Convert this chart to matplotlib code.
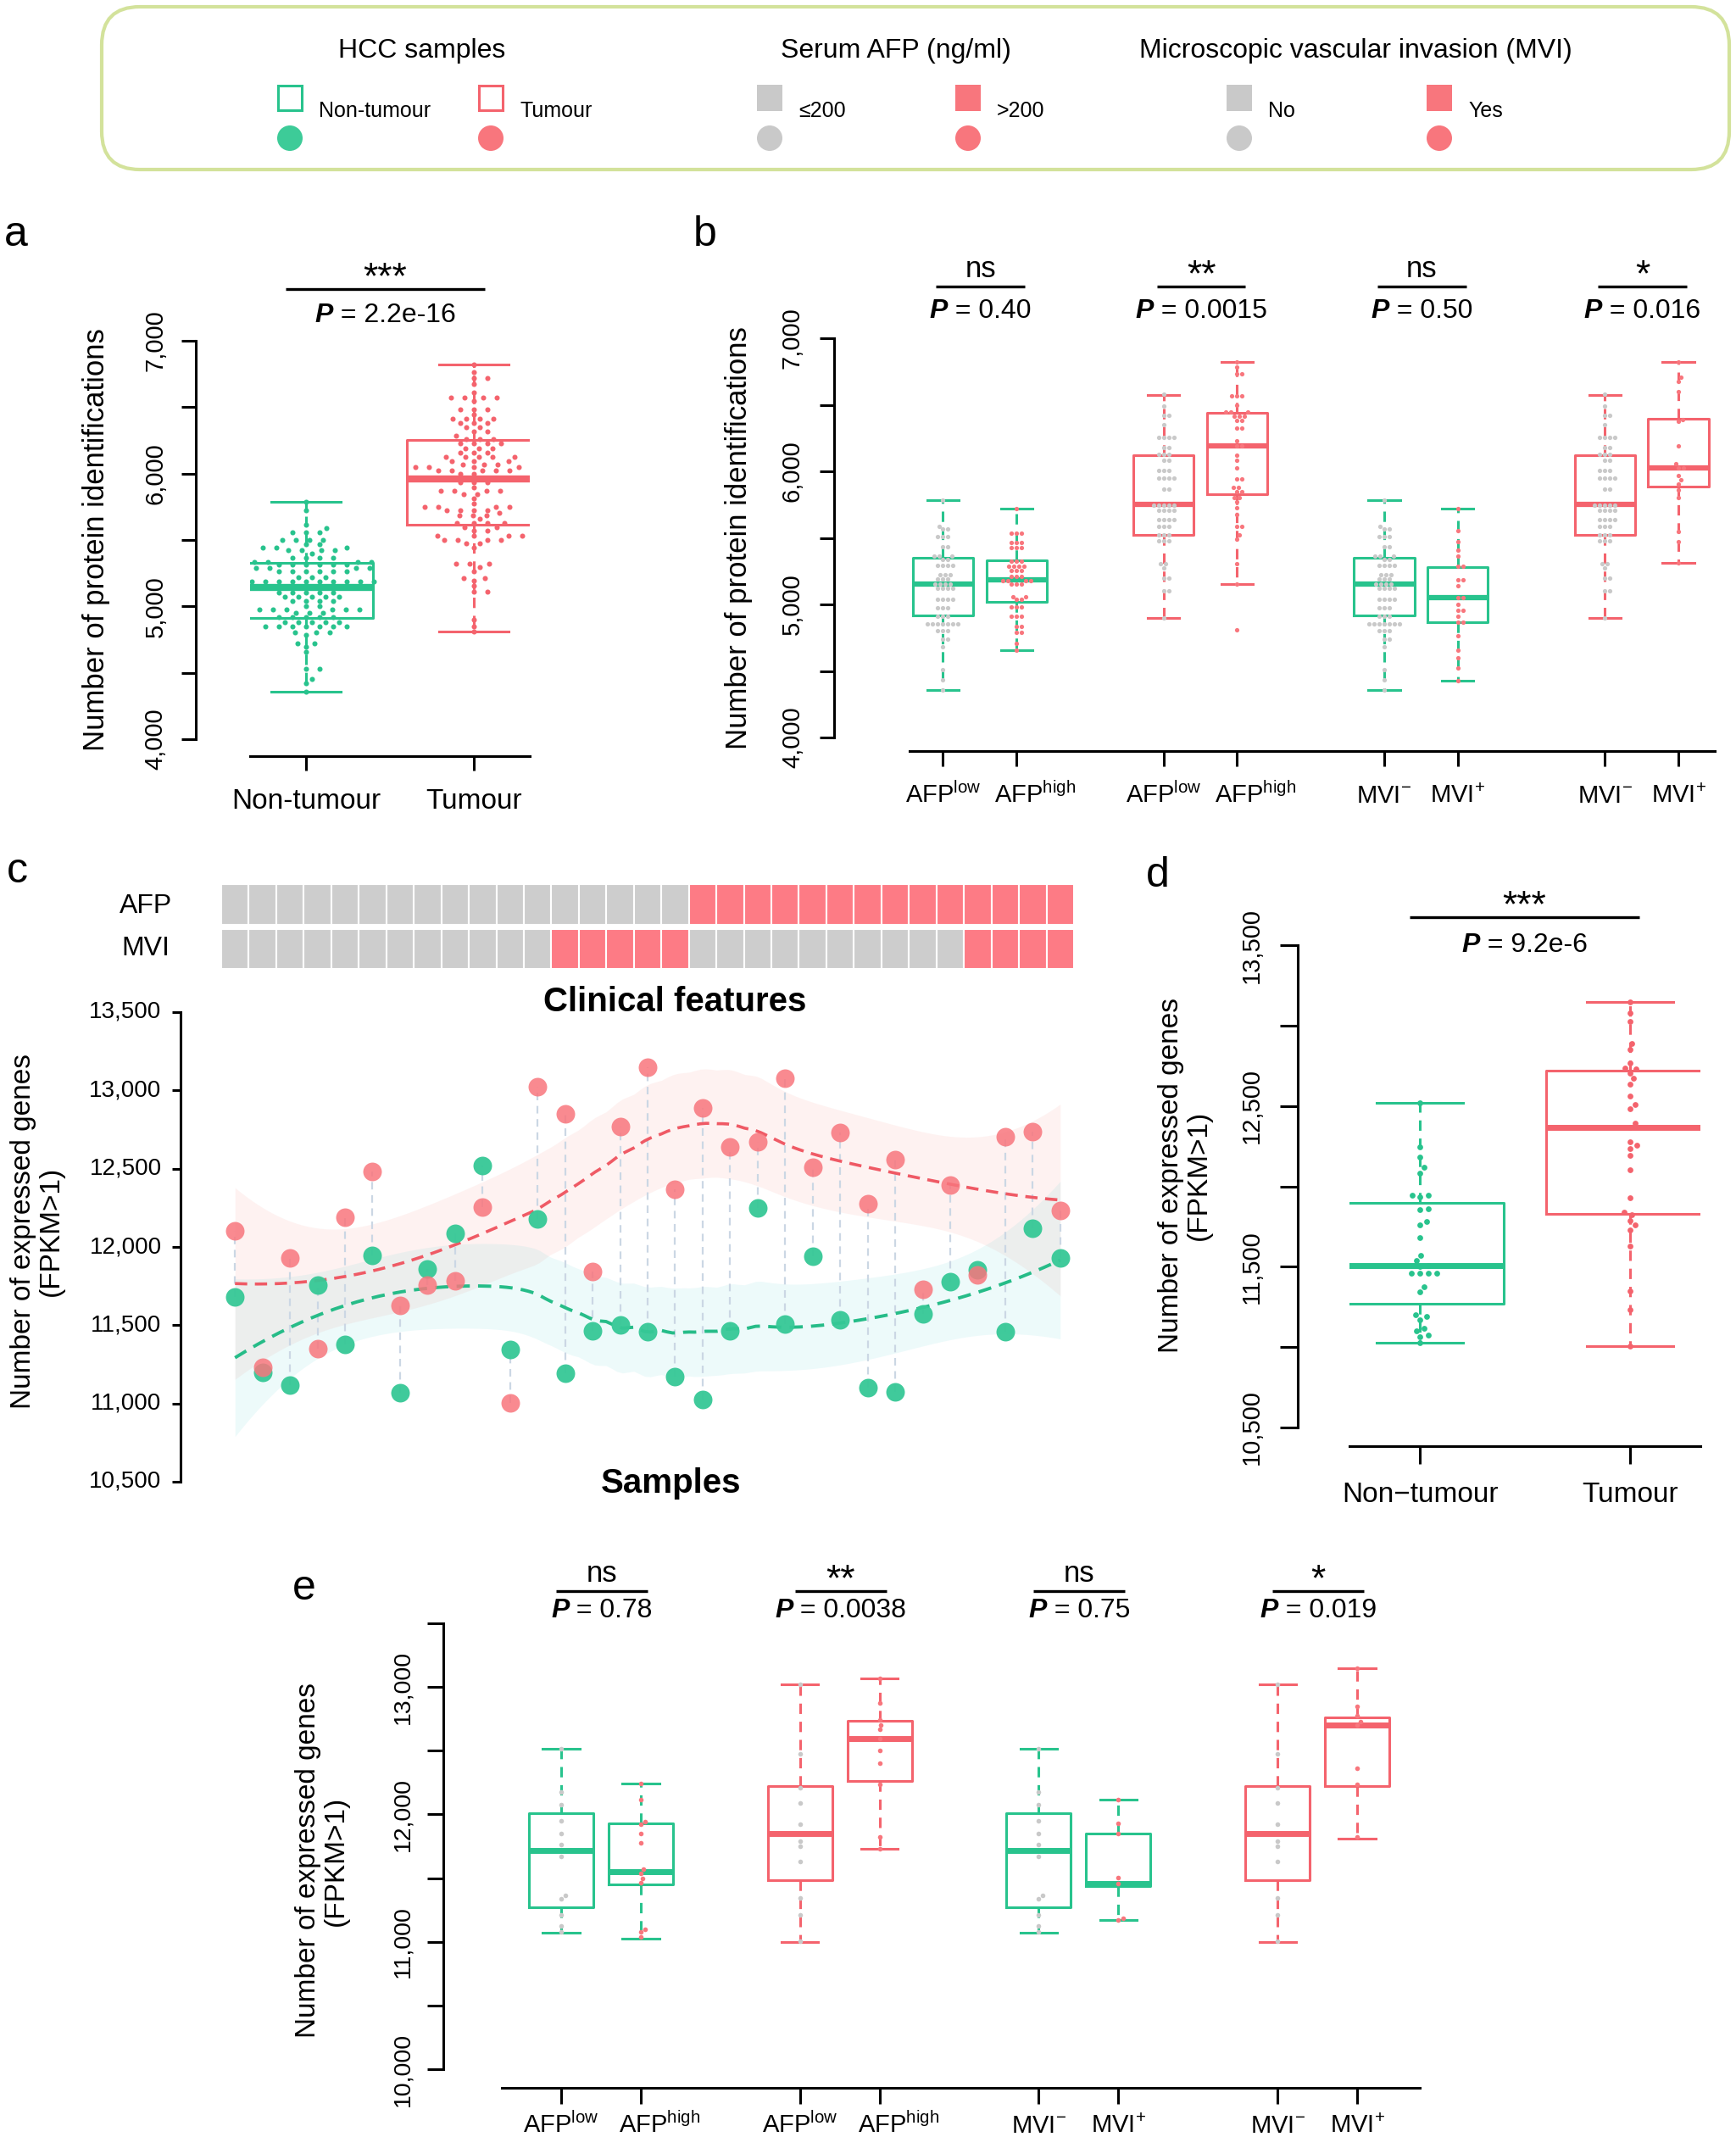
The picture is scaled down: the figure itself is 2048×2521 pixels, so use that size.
import numpy as np
import matplotlib
matplotlib.use("Agg")
import matplotlib.pyplot as plt
from matplotlib.patches import FancyBboxPatch, Rectangle, Circle
from matplotlib.offsetbox import TextArea, HPacker, AnnotationBbox
from matplotlib import cbook

plt.rcParams['font.family'] = ['Liberation Sans', 'DejaVu Sans']
plt.rcParams['mathtext.fontset'] = 'custom'
plt.rcParams['mathtext.rm'] = 'Liberation Sans'
plt.rcParams['mathtext.it'] = 'Liberation Sans:italic'
plt.rcParams['mathtext.bf'] = 'Liberation Sans:bold'

# -----------------------------
# Data
# -----------------------------

# panel a: protein identifications per sample
a_nontumour = [5788, 5724, 5613, 5588, 5558, 5558, 5558, 5503, 5503, 5503, 5503, 5469, 5469,
               5443, 5443, 5443, 5426, 5426, 5426, 5426, 5401, 5369, 5369, 5369, 5369, 5337,
               5337, 5337, 5337, 5316, 5316, 5316, 5316, 5316, 5316, 5288, 5288, 5288, 5288,
               5263, 5263, 5263, 5263, 5263, 5263, 5220, 5220, 5220, 5188, 5188, 5188, 5188,
               5188, 5188, 5188, 5188, 5188, 5188, 5146, 5146, 5146, 5146, 5146, 5103, 5103,
               5103, 5103, 5103, 5071, 5071, 5071, 5071, 5071, 5039, 5039, 5039, 5039, 5001,
               5001, 4976, 4976, 4976, 4976, 4976, 4976, 4950, 4950, 4950, 4916, 4916, 4916,
               4916, 4916, 4880, 4880, 4880, 4880, 4880, 4848, 4848, 4848, 4848, 4848, 4848,
               4848, 4806, 4806, 4806, 4784, 4721, 4721, 4693, 4657, 4529, 4529, 4455, 4423, 4356]
a_tumour = [6819, 6765, 6718, 6718, 6676, 6612, 6570, 6570, 6570, 6570, 6545, 6485, 6485, 6485,
            6443, 6411, 6411, 6411, 6411, 6379, 6379, 6379, 6347, 6347, 6315, 6315, 6283, 6258,
            6258, 6258, 6226, 6226, 6226, 6226, 6188, 6188, 6188, 6156, 6156, 6156, 6124, 6124,
            6124, 6124, 6124, 6092, 6092, 6092, 6071, 6071, 6071, 6050, 6050, 6050, 6050, 6024,
            6024, 6024, 6024, 6024, 5997, 5997, 5965, 5965, 5965, 5965, 5933, 5933, 5933, 5897,
            5869, 5869, 5869, 5869, 5844, 5844, 5810, 5774, 5752, 5752, 5752, 5752, 5725, 5725,
            5725, 5725, 5703, 5688, 5688, 5688, 5657, 5625, 5625, 5625, 5625, 5597, 5597, 5571,
            5571, 5533, 5533, 5533, 5533, 5503, 5503, 5503, 5503, 5475, 5475, 5443, 5320, 5320,
            5320, 5295, 5263, 5214, 5214, 5192, 5156, 5110, 5110, 4897, 4848, 4808]
a_labels = ["Non-tumour", "Tumour"]
a_med = [5140, 5960]
a_q1 = [4911, 5613]
a_q3 = [5327, 6255]
a_lo = [4356, 4808]
a_hi = [5788, 6819]
a_star = "***"
a_pval = "2.2e-16"

# panel b: protein identifications split by AFP / MVI
b_afp_low_nt = [5784, 5586, 5564, 5564, 5511, 5511, 5511, 5436, 5436, 5360, 5360, 5360, 5339,
                5339, 5296, 5296, 5296, 5296, 5220, 5220, 5220, 5188, 5188, 5188, 5155, 5155,
                5155, 5155, 5123, 5123, 5123, 5123, 5037, 5037, 5037, 5037, 4972, 4972, 4972,
                4908, 4908, 4908, 4854, 4854, 4854, 4854, 4854, 4854, 4854, 4800, 4800, 4800,
                4736, 4736, 4682, 4510, 4435, 4355]
b_afp_high_nt = [5720, 5532, 5532, 5532, 5468, 5468, 5468, 5424, 5424, 5424, 5327, 5327, 5327,
                 5284, 5284, 5284, 5284, 5252, 5252, 5252, 5209, 5209, 5209, 5177, 5177, 5177,
                 5177, 5155, 5155, 5155, 5059, 5059, 5037, 5037, 4984, 4984, 4984, 4908, 4908,
                 4908, 4833, 4833, 4790, 4790, 4704, 4657]
b_afp_low_t = [6582, 6490, 6421, 6421, 6350, 6253, 6253, 6253, 6253, 6178, 6178, 6129, 6129,
               6129, 6081, 6081, 6006, 6006, 6006, 5952, 5952, 5952, 5952, 5866, 5866, 5748,
               5748, 5748, 5748, 5748, 5705, 5705, 5705, 5705, 5640, 5640, 5640, 5640, 5586,
               5586, 5586, 5521, 5521, 5521, 5479, 5479, 5479, 5306, 5306, 5274, 5199, 5199,
               5102, 5102, 4898]
b_afp_high_t = [6822, 6781, 6731, 6731, 6565, 6565, 6565, 6494, 6443, 6443, 6443, 6415, 6415,
                6415, 6383, 6383, 6322, 6322, 6232, 6189, 6189, 6124, 6081, 6023, 5941, 5941,
                5877, 5877, 5844, 5844, 5801, 5801, 5769, 5726, 5672, 5586, 5586, 5521, 5489,
                5306, 5154, 4807]
b_mvi_neg_nt = b_afp_low_nt
b_mvi_pos_nt = [5720, 5551, 5470, 5410, 5364, 5289, 5289, 5184, 5184, 5139, 5048, 5048, 5003,
                4958, 4958, 4913, 4867, 4867, 4762, 4657, 4596, 4521, 4425]
b_mvi_neg_t = b_afp_low_t
b_mvi_pos_t = [6822, 6705, 6675, 6599, 6389, 6373, 6193, 6057, 6027, 6027, 5967, 5937, 5907,
               5861, 5801, 5545, 5470, 5310]
b_labels = [r'AFP$^{\rm low}$', r'AFP$^{\rm high}$', r'AFP$^{\rm low}$', r'AFP$^{\rm high}$',
            r'MVI$^{-}$', r'MVI$^{+}$', r'MVI$^{-}$', r'MVI$^{+}$']
b_med = [5154, 5184, 5750, 6193, 5154, 5048, 5750, 6027]
b_q1 = [4916, 5021, 5521, 5825, 4916, 4867, 5521, 5883]
b_q3 = [5349, 5334, 6123, 6440, 5349, 5283, 6123, 6398]
b_lo = [4355, 4657, 4898, 5154, 4355, 4425, 4898, 5310]
b_hi = [5786, 5720, 6575, 6822, 5786, 5720, 6575, 6822]
b_stars = ["ns", "**", "ns", "*"]
b_pvals = ["0.40", "0.0015", "0.50", "0.016"]

# panel c: expressed genes per paired sample (ordered as in the clinical strip)
c_tumour = [12103, 11232, 11929, 11348, 12192, 12482, 11628, 11758, 11785, 12255, 11006, 13024,
            12850, 11841, 12767, 13149, 12366, 12886, 12637, 12670, 13077, 12510, 12731, 12275,
            12560, 11730, 12394, 11821, 12704, 12734, 12233]
c_nontumour = [11680, 11200, 11116, 11758, 11376, 11946, 11066, 11860, 12084, 12518, 11343,
               12181, 11191, 11462, 11503, 11459, 11169, 11025, 11462, 12247, 11509, 11943,
               11537, 11100, 11075, 11570, 11780, 11855, 11459, 12117, 11932]
c_afp_high = [0, 0, 0, 0, 0, 0, 0, 0, 0, 0, 0, 0, 0, 0, 0, 0, 0,
              1, 1, 1, 1, 1, 1, 1, 1, 1, 1, 1, 1, 1, 1]
c_mvi_pos = [0, 0, 0, 0, 0, 0, 0, 0, 0, 0, 0, 0, 1, 1, 1, 1, 1,
             0, 0, 0, 0, 0, 0, 0, 0, 0, 0, 1, 1, 1, 1]

# panel d uses the panel c samples
d_labels = ["Non\u2212tumour", "Tumour"]
d_star = "***"
d_pval = "9.2e-6"

# panel e: expressed genes split by AFP / MVI
e_afp_low_nt = [12514, 12178, 12074, 11947, 11852, 11762, 11673, 11361, 11340, 11213, 11124, 11079]
e_afp_high_nt = [12244, 12119, 11941, 11926, 11852, 11777, 11569, 11540, 11495, 11465, 11100,
                 11079, 11035]
e_afp_low_t = [13019, 12475, 12208, 12089, 11920, 11792, 11748, 11629, 11347, 11213, 11005]
e_afp_high_t = [13069, 12876, 12742, 12700, 12668, 12594, 12505, 12401, 12238, 11822, 11733]
e_mvi_neg_nt = e_afp_low_nt
e_mvi_pos_nt = [12113, 11932, 11852, 11504, 11460, 11183, 11168]
e_mvi_neg_t = e_afp_low_t
e_mvi_pos_t = [13149, 12846, 12772, 12728, 12704, 12365, 12238, 11822]
e_med = [11718, 11552, 11852, 12594, 11718, 11460, 11852, 12704]
e_q1 = [11272, 11451, 11486, 12261, 11272, 11436, 11486, 12223]
e_q3 = [12009, 11932, 12223, 12737, 12009, 11852, 12223, 12763]
e_lo = [11070, 11026, 11000, 11733, 11070, 11168, 11000, 11813]
e_hi = [12514, 12244, 13019, 13069, 12514, 12113, 13019, 13149]
e_stars = ["ns", "**", "ns", "*"]
e_pvals = ["0.78", "0.0038", "0.75", "0.019"]

# -----------------------------
# Styling
# -----------------------------
W, H = 2048, 2521
GREEN = "#28C38D"
RED = "#F4636D"
GRAY = "#C9C9C9"
HEAT_RED = "#FD7B85"
HEAT_GRAY = "#CDCDCD"
PT_RED = "#F8767D"
PT_GREEN = "#36C896"
LW = 2.2

fig = plt.figure(figsize=(W / 100, H / 100), dpi=100)
fig.patch.set_facecolor("white")

# overlay axes in pixel units (origin top-left) for legend / annotations
ov = fig.add_axes([0, 0, 1, 1])
ov.set_xlim(0, W)
ov.set_ylim(H, 0)
ov.axis("off")


def add_px_axes(x0, y0, x1, y1):
    ax = fig.add_axes([x0 / W, 1 - y1 / H, (x1 - x0) / W, (y1 - y0) / H])
    ax.set_facecolor("none")
    return ax


def txt(x, y, s, size, ha="center", va="center", **kw):
    ov.text(x, y, s, fontsize=size, ha=ha, va=va, **kw)


def ptext(x, y, val, size=23):
    a = TextArea("P", textprops=dict(fontsize=size, fontweight="bold", fontstyle="italic"))
    b = TextArea(" = " + val, textprops=dict(fontsize=size))
    box = HPacker(children=[a, b], align="baseline", pad=0, sep=0)
    ab = AnnotationBbox(box, (x, y), xycoords="data", frameon=False,
                        box_alignment=(0.5, 0.5), pad=0)
    ov.add_artist(ab)


def bracket(x0, x1, y_line, y_p, star, pval):
    ov.plot([x0, x1], [y_line, y_line], color="black", lw=2.4, solid_capstyle="butt")
    xc = (x0 + x1) / 2
    if star == "ns":
        txt(xc, y_line - 11, star, 25, va="baseline")
    else:
        txt(xc, y_line - 1, star, 32, va="baseline")
    ptext(xc, y_p, pval)


def xpx(ax, pos):
    return ax.transData.transform((pos, ax.get_ylim()[0]))[0]


def swarm(ax, xc, vals, spx, spy):
    # simple beeswarm in pixel space (elliptical spacing)
    vals = np.asarray(vals, float)
    ypx = ax.transData.transform(np.column_stack([np.full(len(vals), xc), vals]))[:, 1]
    unit = xpx(ax, xc + 1) - xpx(ax, xc)
    order = np.argsort(ypx, kind="stable")
    placed = []
    offs = np.zeros(len(vals))
    for i in order:
        y = ypx[i]
        near = [(px, py) for px, py in placed if abs(py - y) < spy]
        cands = [0.0]
        for px, py in near:
            dx = spx * np.sqrt(1 - ((py - y) / spy) ** 2)
            cands += [px + dx, px - dx]
        cands.sort(key=abs)
        for c in cands:
            if all(((c - px) / spx) ** 2 + ((y - py) / spy) ** 2 >= 1 - 1e-6 for px, py in near):
                break
        placed.append((c, y))
        offs[i] = c
    return xc + offs / unit


def draw_boxes(ax, positions, stats, colors, width, cap, medlw):
    for p, st, c in zip(positions, stats, colors):
        ax.bxp([st], positions=[p], widths=width, capwidths=cap, showfliers=False,
               manage_ticks=False,
               boxprops=dict(color=c, linewidth=LW),
               medianprops=dict(color=c, linewidth=medlw, solid_capstyle="butt"),
               whiskerprops=dict(color=c, linewidth=LW, linestyle=(0, (4, 3))),
               capprops=dict(color=c, linewidth=LW))


def make_stats(med, q1, q3, lo, hi):
    return [dict(med=m, q1=a, q3=b, whislo=l, whishi=h, fliers=[])
            for m, a, b, l, h in zip(med, q1, q3, lo, hi)]


def style_axes(ax, out_left, out_bottom, ybounds, yticks, ylabels, ysize, ypad, ylen,
               yrot=90, xticks=None, xlabels=None, xsize=23, xpad=10, xlen=18):
    for s in ("top", "right"):
        ax.spines[s].set_visible(False)
    ax.spines["left"].set_position(("outward", out_left * 0.72))
    ax.spines["left"].set_bounds(*ybounds)
    ax.spines["left"].set_linewidth(LW)
    ax.set_yticks(yticks)
    ax.set_yticklabels(ylabels, fontsize=ysize, rotation=yrot, va="center")
    ax.tick_params(axis="y", length=ylen * 0.72, width=LW, pad=ypad)
    if xticks is None:
        ax.spines["bottom"].set_visible(False)
        ax.set_xticks([])
    else:
        ax.spines["bottom"].set_position(("outward", out_bottom * 0.72))
        ax.spines["bottom"].set_linewidth(LW)
        ax.set_xticks(xticks)
        ax.set_xticklabels(xlabels, fontsize=xsize)
        ax.tick_params(axis="x", length=xlen * 0.72, width=LW, pad=xpad)


def group_labels(ax, positions, labels, baseline, shifts, size=21):
    # labels drawn by hand so the "high" ones can sit slightly right of the tick
    for p, lab, sh in zip(positions, labels, shifts):
        txt(xpx(ax, p) + sh, baseline, lab, size, va="baseline")


def ylab_thousands(ticks, step):
    return [f"{int(t):,}" if t % step == 0 else "" for t in ticks]


# -----------------------------
# Legend box
# -----------------------------
ov.add_patch(FancyBboxPatch((120, 8), 1920, 192, boxstyle="round,pad=0,rounding_size=45",
                            fc="none", ec="#D3E29B", lw=3))
txt(498, 60, "HCC samples", 23)
txt(1057, 60, "Serum AFP (ng/ml)", 23)
txt(1599, 60, "Microscopic vascular invasion (MVI)", 23)

legend_items = [(342, "Non-tumour", GREEN, False), (579, "Tumour", RED, False),
                (908, "\u2264200", GRAY, True), (1142, ">200", PT_RED, True),
                (1462, "No", GRAY, True), (1698, "Yes", PT_RED, True)]
for cx, lab, col, filled in legend_items:
    if filled:
        ov.add_patch(Rectangle((cx - 15, 100), 30, 31, fc=col, ec=col, lw=0))
    else:
        ov.add_patch(Rectangle((cx - 14, 101), 28, 29, fc="white", ec=col, lw=2.2))
    circ_col = {GREEN: "#3DCB98", RED: PT_RED}.get(col, col)
    ov.add_patch(Circle((cx, 163), 15, fc=circ_col, ec="none"))
    txt(cx + 34, 131, lab, 18, ha="left")

# -----------------------------
# Panel a
# -----------------------------
ax_a = add_px_axes(295, 402, 625, 872)
ax_a.set_xlim(0.667, 2.333)
ax_a.set_ylim(4000, 7000)
draw_boxes(ax_a, [1, 2], make_stats(a_med, a_q1, a_q3, a_lo, a_hi), [GREEN, RED], 0.8, 0.41, 6)
for pos, vals, col in [(1, a_nontumour, GREEN), (2, a_tumour, RED)]:
    ax_a.scatter(swarm(ax_a, pos, vals, 16, 5.5), vals, s=19, color=col, lw=0, zorder=3)
yt = np.arange(4000, 7001, 500)
style_axes(ax_a, 64, 20, (4000, 7000), yt, ylab_thousands(yt, 1000), 21, 12, 17,
           xticks=[1, 2], xlabels=a_labels, xsize=24, xpad=15, xlen=17)
txt(114, 637, "Number of protein identifications", 25, rotation=90)
txt(5, 290, "a", 36, ha="left", va="baseline")
bracket(xpx(ax_a, 1) - 24, xpx(ax_a, 2) + 13, 341, 372, a_star, a_pval)

# -----------------------------
# Panel b
# -----------------------------
ax_b = add_px_axes(1073, 399, 2023, 870)
ax_b.set_xlim(0.545, 11.496)
ax_b.set_ylim(4000, 7000)
b_pos = [1, 2, 4, 5, 7, 8, 10, 11]
b_box_cols = [GREEN, GREEN, RED, RED, GREEN, GREEN, RED, RED]
b_pt_cols = [GRAY, PT_RED, GRAY, PT_RED, GRAY, PT_RED, GRAY, PT_RED]
b_shift = [0, 22, 0, 22, 0, 0, 0, 0]
b_points = [b_afp_low_nt, b_afp_high_nt, b_afp_low_t, b_afp_high_t,
            b_mvi_neg_nt, b_mvi_pos_nt, b_mvi_neg_t, b_mvi_pos_t]
draw_boxes(ax_b, b_pos, make_stats(b_med, b_q1, b_q3, b_lo, b_hi), b_box_cols, 0.82, 0.43, 4.5)
for pos, vals, col in zip(b_pos, b_points, b_pt_cols):
    ax_b.scatter(swarm(ax_b, pos, vals, 6, 5.5), vals, s=14, color=col, lw=0, zorder=3)
style_axes(ax_b, 89, 16, (4000, 7000), yt, ylab_thousands(yt, 1000), 21, 13, 17,
           xticks=b_pos, xlabels=[""] * len(b_pos), xlen=18)
group_labels(ax_b, b_pos, b_labels, 947, b_shift)
txt(872, 635, "Number of protein identifications", 25, rotation=90)
txt(818, 290, "b", 36, ha="left", va="baseline")
for k in range(4):
    p1, p2 = b_pos[2 * k], b_pos[2 * k + 1]
    bracket(xpx(ax_b, p1) - 8, xpx(ax_b, p2) + 10, 338, 367, b_stars[k], b_pvals[k])

# -----------------------------
# Panel c
# -----------------------------
n_c = len(c_tumour)
xs_c = np.arange(1, n_c + 1)

ax_h = add_px_axes(261, 1043, 1267, 1143)
ax_h.set_xlim(0.5, n_c + 0.5)
ax_h.set_ylim(2, 0)
ax_h.bar(xs_c, 0.95, bottom=0, width=1,
         color=[HEAT_RED if v else HEAT_GRAY for v in c_afp_high], edgecolor="white", lw=1.5)
ax_h.bar(xs_c, 0.95, bottom=1.05, width=1,
         color=[HEAT_RED if v else HEAT_GRAY for v in c_mvi_pos], edgecolor="white", lw=1.5)
ax_h.axis("off")
txt(172, 1069, "AFP", 23)
txt(172, 1119, "MVI", 23)
txt(796, 1182, "Clinical features", 29, fontweight="bold")


def loess(x, y, xg, span=0.75):
    x = np.asarray(x, float)
    y = np.asarray(y, float)
    n = len(x)
    q = int(np.floor(n * span))

    def row(x0):
        d = np.abs(x - x0)
        h = np.sort(d)[q - 1]
        w = (1 - np.clip(d / h, 0, 1) ** 3) ** 3
        X = np.column_stack([np.ones(n), x - x0, (x - x0) ** 2])
        XtW = X.T * w
        return np.linalg.solve(XtW @ X, XtW)[0]

    L = np.array([row(v) for v in x])
    res = y - L @ y
    M = (np.eye(n) - L).T @ (np.eye(n) - L)
    d1, d2 = np.trace(M), np.trace(M @ M)
    sigma = np.sqrt(res @ res / d1)
    df = d1 ** 2 / d2
    z = 1.959964
    tq = z + (z ** 3 + z) / (4 * df) + (5 * z ** 5 + 16 * z ** 3 + 3 * z) / (96 * df ** 2)
    Lg = np.array([row(v) for v in xg])
    fit = Lg @ y
    se = sigma * np.sqrt((Lg ** 2).sum(axis=1))
    return fit, tq * se


ax_c = add_px_axes(261, 1194, 1267, 1748)
ax_c.set_xlim(0.5, n_c + 0.5)
ax_c.set_ylim(10500, 13500)
xg = np.linspace(1, n_c, 150)
fit_t, ci_t = loess(xs_c, c_tumour, xg)
fit_n, ci_n = loess(xs_c, c_nontumour, xg)
ax_c.fill_between(xg, fit_t - ci_t, fit_t + ci_t, color="#F8766D", alpha=0.09, lw=0, zorder=0.5)
ax_c.fill_between(xg, fit_n - ci_n, fit_n + ci_n, color="#00BFC4", alpha=0.07, lw=0, zorder=0.6)
ax_c.vlines(xs_c, np.minimum(c_tumour, c_nontumour), np.maximum(c_tumour, c_nontumour),
            colors="#CBD7E4", linestyles=(0, (4, 3)), lw=1.6, zorder=1)
ax_c.plot(xg, fit_t, color="#EF5A65", lw=2.6, ls=(0, (4, 2.5)), zorder=2)
ax_c.plot(xg, fit_n, color="#26BC88", lw=2.8, ls=(0, (4, 2.5)), zorder=2)
ax_c.scatter(xs_c, c_nontumour, s=250, color=PT_GREEN, alpha=0.95, lw=0, zorder=3)
ax_c.scatter(xs_c, c_tumour, s=250, color=PT_RED, alpha=0.85, lw=0, zorder=4)
yt_c = np.arange(10500, 13501, 500)
style_axes(ax_c, 48, 0, (10500, 13500), yt_c, [f"{int(t):,}" for t in yt_c], 20, 9, 10, yrot=0)
txt(44, 1452, "Number of expressed genes\n(FPKM>1)", 24, rotation=90, linespacing=1.05)
txt(792, 1750, "Samples", 29, fontweight="bold")
txt(8, 1041, "c", 36, ha="left", va="baseline")

# -----------------------------
# Panel d
# -----------------------------
ax_d = add_px_axes(1592, 1115, 2006, 1684)
ax_d.set_xlim(0.665, 2.335)
ax_d.set_ylim(10500, 13500)
d_stats = cbook.boxplot_stats([c_nontumour, c_tumour], whis=1.5)
draw_boxes(ax_d, [1, 2], d_stats, [GREEN, RED], 0.8, 0.41, 5)
for pos, vals, col in [(1, c_nontumour, GREEN), (2, c_tumour, RED)]:
    ax_d.scatter(swarm(ax_d, pos, vals, 10, 7), vals, s=24, color=col, lw=0, zorder=3)
style_axes(ax_d, 61, 22, (10500, 13500), yt_c,
           [f"{int(t):,}" if (t - 10500) % 1000 == 0 else "" for t in yt_c], 21, 14, 21,
           xticks=[1, 2], xlabels=d_labels, xsize=24, xpad=15, xlen=21)
txt(1398, 1386, "Number of expressed genes\n(FPKM>1)", 24, rotation=90, linespacing=1.05)
txt(1352, 1046, "d", 36, ha="left", va="baseline")
bracket(xpx(ax_d, 1) - 12, xpx(ax_d, 2) + 11, 1082, 1115, d_star, d_pval)

# -----------------------------
# Panel e
# -----------------------------
ax_e = add_px_axes(592, 1915, 1675, 2441)
ax_e.set_xlim(0.2545, 11.788)
ax_e.set_ylim(10000, 13500)
e_points = [e_afp_low_nt, e_afp_high_nt, e_afp_low_t, e_afp_high_t,
            e_mvi_neg_nt, e_mvi_pos_nt, e_mvi_neg_t, e_mvi_pos_t]
draw_boxes(ax_e, b_pos, make_stats(e_med, e_q1, e_q3, e_lo, e_hi), b_box_cols, 0.81, 0.46, 5)
for pos, vals, col in zip(b_pos, e_points, b_pt_cols):
    ax_e.scatter(swarm(ax_e, pos, vals, 6, 5), vals, s=16, color=col, lw=0, zorder=3)
yt_e = np.arange(10000, 13501, 500)
style_axes(ax_e, 69, 22, (10000, 13500), yt_e, ylab_thousands(yt_e, 1000), 20.5, 11, 19,
           xticks=b_pos, xlabels=[""] * len(b_pos), xlen=19)
group_labels(ax_e, b_pos, b_labels, 2516, b_shift)
txt(380, 2195, "Number of expressed genes\n(FPKM>1)", 24, rotation=90, linespacing=1.05)
txt(345, 1887, "e", 36, ha="left", va="baseline")
for k in range(4):
    p1, p2 = b_pos[2 * k], b_pos[2 * k + 1]
    bracket(xpx(ax_e, p1) - 6, xpx(ax_e, p2) + 8, 1877, 1900, e_stars[k], e_pvals[k])

fig.savefig("out.png", dpi=100, facecolor="white")
